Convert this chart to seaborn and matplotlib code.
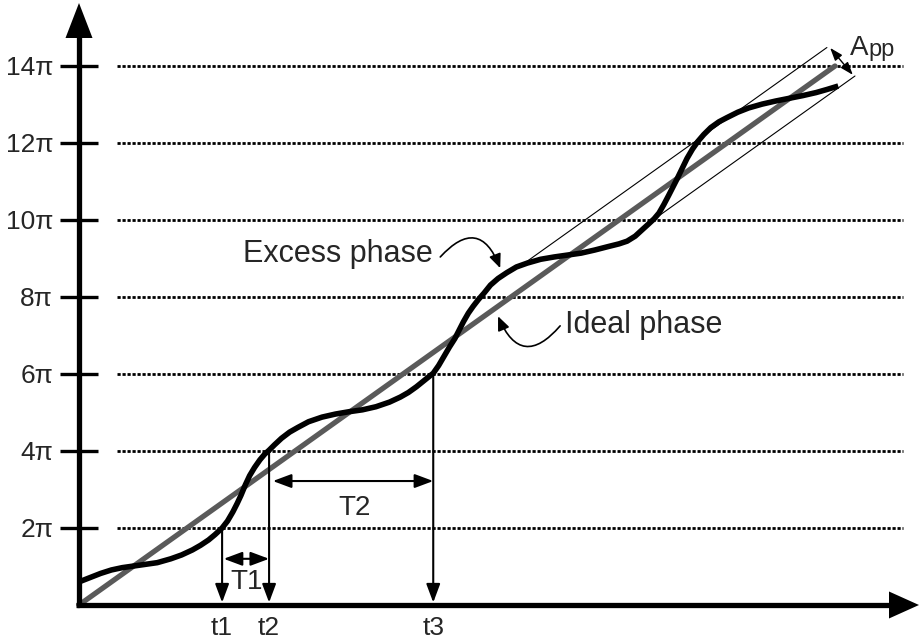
import matplotlib
matplotlib.use("Agg")
import matplotlib.pyplot as plt
import numpy as np
import pandas as pd
import seaborn as sns

# Time is measured so that the ideal phase advances by pi per unit;
# phases are given as multiples of pi.
ideal_t = [0.0, 14.0]
ideal_phase = [0.0, 14.0]

excess_t = [0.00, 0.20, 0.40, 0.60, 0.80, 1.00, 1.20, 1.45, 1.70, 1.90,
            2.10, 2.25, 2.40, 2.52, 2.65, 2.75, 2.85, 2.93, 3.00, 3.08,
            3.16, 3.25, 3.35, 3.44, 3.52, 3.62, 3.75, 3.90, 4.05, 4.25,
            4.50, 4.75, 5.00, 5.25, 5.50, 5.75, 5.95, 6.10, 6.25, 6.40,
            6.56, 6.66, 6.76, 6.86, 6.96, 7.04, 7.12, 7.21, 7.30, 7.40,
            7.50, 7.62, 7.76, 7.92, 8.10, 8.30, 8.55, 8.80, 9.05, 9.30,
            9.55, 9.80, 10.00, 10.15, 10.30, 10.44, 10.55, 10.65, 10.74, 10.83,
            10.92, 11.00, 11.08, 11.17, 11.26, 11.36, 11.46, 11.57, 11.70, 11.85,
            12.00, 12.20, 12.40, 12.65, 12.90, 13.15, 13.40, 13.65, 13.85, 14.06]
excess_phase = [0.60, 0.71, 0.82, 0.91, 0.97, 1.01, 1.05, 1.10, 1.20, 1.30,
                1.43, 1.55, 1.69, 1.83, 2.00, 2.18, 2.42, 2.64, 2.85, 3.12,
                3.36, 3.57, 3.77, 3.92, 4.02, 4.16, 4.33, 4.49, 4.61, 4.76,
                4.88, 4.96, 5.02, 5.07, 5.15, 5.27, 5.40, 5.52, 5.67, 5.84,
                6.02, 6.22, 6.46, 6.70, 6.92, 7.14, 7.36, 7.58, 7.76, 7.94,
                8.10, 8.31, 8.48, 8.63, 8.78, 8.88, 8.98, 9.04, 9.09, 9.14,
                9.22, 9.31, 9.38, 9.45, 9.58, 9.76, 9.90, 10.03, 10.18, 10.40,
                10.64, 10.86, 11.08, 11.34, 11.60, 11.84, 12.04, 12.22, 12.40, 12.55,
                12.66, 12.80, 12.91, 13.01, 13.09, 13.16, 13.23, 13.31, 13.39, 13.48]

level_values = [2, 4, 6, 8, 10, 12, 14]
level_labels = ["2π", "4π", "6π", "8π", "10π", "12π", "14π"]

marker_names = ["t1", "t2", "t3"]
marker_t = [2.65, 3.52, 6.56]
marker_phase = [2, 4, 6]

# half of the peak-to-peak excess phase (multiples of pi)
app_half = 0.63
upper_span = [8.13, 13.85]
lower_span = [10.70, 14.37]

sns.set_theme(style="white")
plt.rcParams["font.family"] = ["Liberation Sans", "DejaVu Sans"]

W, H = 924, 641
X0, Y0 = 79.0, 605.0          # pixel position of the origin
SX, SY = 54.0, 38.5           # pixels per unit

fig = plt.figure(figsize=(W / 100, H / 100), dpi=100)
ax = fig.add_axes([0, 0, 1, 1])

ink = "black"
grey = "#5a5a5a"

# reference levels: dotted guides and short ticks on the phase axis
for v in level_values:
    ax.plot([0.70, 15.26], [v, v], color=ink, lw=2.0,
            linestyle=(0, (1.15, 0.65)), dash_capstyle="butt")
    ax.plot([-0.35, 0.35], [v, v], color=ink, lw=2.4, solid_capstyle="butt")
for v, lab in zip(level_values, level_labels):
    ax.text(-0.48, v - 9 / SY, lab, ha="right", va="baseline", fontsize=19)

# envelope of the excess phase
ut = np.array(upper_span)
lt = np.array(lower_span)
ax.plot(ut, ut + app_half, color=ink, lw=0.8)
ax.plot(lt, lt - app_half, color=ink, lw=0.8)

df_ideal = pd.DataFrame({"t": ideal_t, "phase": ideal_phase})
df_excess = pd.DataFrame({"t": excess_t, "phase": excess_phase})
sns.lineplot(data=df_ideal, x="t", y="phase", ax=ax, color=grey, lw=3.8,
             estimator=None, sort=False)
sns.lineplot(data=df_excess, x="t", y="phase", ax=ax, color=ink, lw=4.0,
             estimator=None, sort=False, solid_joinstyle="round",
             solid_capstyle="butt")

ax.set_xlim(-X0 / SX, (W - X0) / SX)
ax.set_ylim(-(H - Y0) / SY, Y0 / SY)
ax.axis("off")

# main axes with arrowheads
y_tip = (Y0 - 3) / SY
x_tip = (919 - X0) / SX
ax.plot([-3 / SX, 0, 0], [0, 0, y_tip - 30 / SY], color=ink, lw=3.8,
        solid_capstyle="butt")
ax.plot([-2.5 / SX, x_tip - 25 / SX], [0, 0], color=ink, lw=3.8,
        solid_capstyle="butt")
ax.fill([0, -13.5 / SX, 13.5 / SX], [y_tip, y_tip - 35 / SY, y_tip - 35 / SY],
        color=ink, lw=0)
ax.fill([x_tip, x_tip - 30 / SX, x_tip - 30 / SX], [0, 13.5 / SY, -13.5 / SY],
        color=ink, lw=0)

# instants where the excess phase crosses multiples of 2*pi
head = "-|>,head_length=0.75,head_width=0.28"
for name, t, p in zip(marker_names, marker_t, marker_phase):
    ax.annotate("", xy=(t, 2.5 / SY), xytext=(t, p),
                arrowprops=dict(arrowstyle=head, color=ink, lw=1.5,
                                mutation_scale=15, shrinkA=0, shrinkB=0))
    ax.text(t, -30 / SY, name, ha="center", va="baseline", fontsize=19)

dbl = "<|-|>,head_length=0.75,head_width=0.28"
ax.annotate("", xy=(marker_t[1], 1.2), xytext=(marker_t[0] + 0.03, 1.2),
            arrowprops=dict(arrowstyle=dbl, color=ink, lw=1.5,
                            mutation_scale=15, shrinkA=0, shrinkB=0))
ax.text((marker_t[0] + marker_t[1]) / 2 + 0.02, 0.42, "T1", ha="center",
        va="baseline", fontsize=20)
ax.annotate("", xy=(marker_t[2], 3.22), xytext=(marker_t[1] + 0.07, 3.22),
            arrowprops=dict(arrowstyle=dbl, color=ink, lw=1.5,
                            mutation_scale=15, shrinkA=0, shrinkB=0))
ax.text(5.11, 2.34, "T2", ha="center", va="baseline", fontsize=20)

# curve labels with curved pointers
small = "-|>,head_length=0.7,head_width=0.3"
ax.text(3.04, 8.91, "Excess phase", ha="left", va="baseline", fontsize=22)
ax.annotate("", xy=(7.80, 8.75), xytext=(6.69, 9.04),
            arrowprops=dict(arrowstyle=small, color=ink, lw=1.2,
                            mutation_scale=12, shrinkA=0, shrinkB=0,
                            connectionstyle="arc3,rad=-0.8"))
ax.text(9.00, 7.06, "Ideal phase", ha="left", va="baseline", fontsize=22)
ax.annotate("", xy=(7.76, 7.50), xytext=(8.91, 7.25),
            arrowprops=dict(arrowstyle=small, color=ink, lw=1.2,
                            mutation_scale=12, shrinkA=0, shrinkB=0,
                            connectionstyle="arc3,rad=-0.8"))

# peak-to-peak amplitude marker
ax.annotate("", xy=(14.33, 13.77), xytext=(13.91, 14.47),
            arrowprops=dict(arrowstyle="<|-|>,head_length=0.7,head_width=0.25",
                            color=ink, lw=1.0, mutation_scale=11,
                            shrinkA=0, shrinkB=0))
ax.text(14.28, 14.29, "A", ha="left", va="baseline", fontsize=20)
ax.text(14.61, 14.25, "pp", ha="left", va="baseline", fontsize=17)

fig.savefig("out.png", dpi=100)
